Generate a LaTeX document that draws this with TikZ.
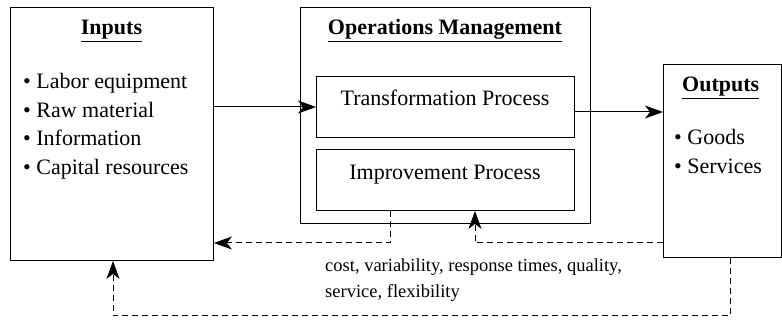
\documentclass[tikz,border=0pt]{standalone}
\usepackage{fontspec}
\setmainfont{Liberation Serif}
\usetikzlibrary{arrows.meta}
\usetikzlibrary{calc}

\begin{document}
\begin{tikzpicture}[x=1pt, y=-1pt,
    box/.style = {draw, line width=0.9pt, anchor=north west, inner sep=0pt},
    big/.style = {font=\fontsize{22}{26}\selectfont},
    small/.style = {font=\fontsize{18.5}{22}\selectfont},
    flow/.style = {line width=1pt, -{Stealth[length=18pt, width=13pt, inset=5pt]}},
    back/.style = {line width=1pt, dash pattern=on 6pt off 4pt, -{Stealth[length=18pt, width=13pt, inset=5pt]}}]
                \useasboundingbox (0,0) rectangle (782,320);
                % boxes
                \node[box, minimum width=203pt, minimum height=253pt] (inputs) at (10,7) {};
                \node[box, minimum width=290pt, minimum height=216pt] (opsmgmt) at (300,7) {};
                \node[box, minimum width=258pt, minimum height=61pt] (transf) at (316,76) {};
                \node[box, minimum width=258pt, minimum height=61pt] (improv) at (316,149) {};
                \node[box, minimum width=118pt, minimum height=193pt] (outputs) at (663,64) {};
                % titles
                \node[big, anchor=base] (inputstitle) at (111.5,35) {\underline{\textbf{Inputs}}};
                \node[big, anchor=base] (opstitle) at (445,35) {\underline{\textbf{Operations Management}}};
                \node[big, anchor=base west, inner sep=0pt] (outputstitle) at (682,92) {\underline{\textbf{Outputs}}};
                \node[big, anchor=base] (transftext) at (445,106) {Transformation Process};
                \node[big, anchor=base] (improvtext) at (445,180) {Improvement Process};
                % bullet lists
                \foreach \item [count=\i] in {Labor equipment, Raw material, Information, Capital resources}
                    \node[big, anchor=base west, inner sep=0pt] (in\i) at (23,{60.5+28.5*\i}) {\textbullet\ \item};
                \foreach \item [count=\i] in {Goods, Services}
                    \node[big, anchor=base west, inner sep=0pt] (out\i) at (674,{116+29*\i}) {\textbullet\ \item};
                % measures
                \node[small, anchor=base west, inner sep=0pt] (measures1) at (325,272) {cost, variability, response times, quality,};
                \node[small, anchor=base west, inner sep=0pt] (measures2) at (325,298) {service, flexibility};
                % flows
                \draw[flow] (inputs.east |- 0,107) -- (transf.west |- 0,107);
                \draw[flow] (transf.east |- 0,112) -- (outputs.west |- 0,112);
                % feedback
                \coordinate (fbA) at (390,243);
                \coordinate (fbB) at (475,243);
                \coordinate (fbC) at (730,316);
                \coordinate (fbD) at (113,316);
                \draw[back] (improv.south -| fbA) -- (fbA) -- (inputs.east |- fbA);
                \draw[back] (outputs.west |- fbB) -- (fbB) -- (improv.south -| fbB);
                \draw[back] (outputs.south -| fbC) -- (fbC) -- (fbD) -- (inputs.south -| fbD);
            \end{tikzpicture}
\end{document}
